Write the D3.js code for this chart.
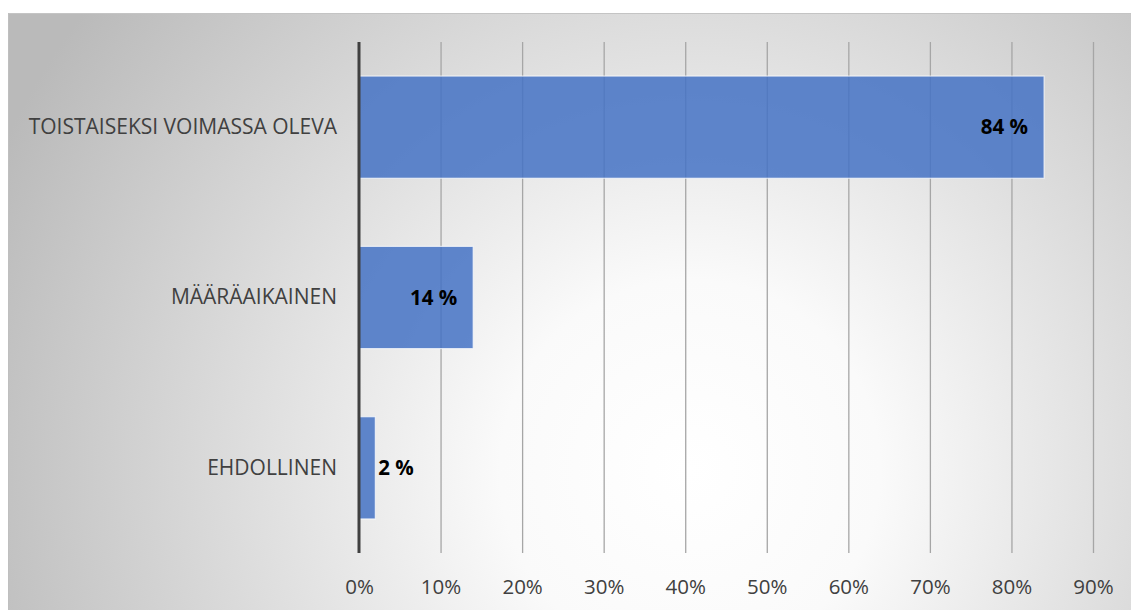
<!DOCTYPE html>
<html><head><meta charset="utf-8">
<script src="https://cdn.jsdelivr.net/npm/d3@7"></script>
<style>html,body{margin:0;padding:0;background:#fff;overflow:hidden}</style>
</head><body><div id="chart"></div>
<script>
const categories = ["TOISTAISEKSI VOIMASSA OLEVA", "MÄÄRÄAIKAINEN", "EHDOLLINEN"];
const values = [84, 14, 2];
const valueLabels = ["84 %", "14 %", "2 %"];
const tickValues = [0, 10, 20, 30, 40, 50, 60, 70, 80, 90];

const W = 1131, H = 610;
const svg = d3.select("#chart").append("svg").attr("width", W).attr("height", H);
const defs = svg.append("defs");
const rg = defs.append("radialGradient").attr("id", "bg")
  .attr("gradientUnits", "userSpaceOnUse")
  .attr("cx", 690).attr("cy", 470).attr("r", 760);
rg.append("stop").attr("offset", "0%").attr("stop-color", "#ffffff");
rg.append("stop").attr("offset", "25%").attr("stop-color", "#fafafa");
rg.append("stop").attr("offset", "100%").attr("stop-color", "#bababa");

svg.append("rect").attr("x", 8).attr("y", 13).attr("width", W - 8).attr("height", H - 13)
  .attr("fill", "url(#bg)");
svg.append("line").attr("x1", 8).attr("x2", W).attr("y1", 13.5).attr("y2", 13.5)
  .attr("stroke", "#c4c4c4").attr("stroke-width", 1);
svg.append("line").attr("x1", 8.5).attr("x2", 8.5).attr("y1", 13).attr("y2", H)
  .attr("stroke", "#bfbfbf").attr("stroke-width", 1);

const x = d3.scaleLinear().domain([0, 90]).range([359, 1093]);
const y = d3.scaleBand().domain(categories).range([42, 553]).paddingInner(0.4).paddingOuter(0.2);

// gridlines
const grid = svg.append("g").attr("transform", "translate(0,553)")
  .call(d3.axisBottom(x).tickValues(tickValues.slice(1)).tickSize(-(553 - 42)).tickFormat(""));
grid.select(".domain").remove();
grid.selectAll("line").attr("stroke", "#a6a6a6").attr("stroke-width", 1.3);

// bars
svg.append("g").selectAll("rect").data(values).join("rect")
  .attr("x", x(0))
  .attr("y", (d, i) => y(categories[i]))
  .attr("width", d => x(d) - x(0))
  .attr("height", y.bandwidth())
  .attr("fill", "#4472c4").attr("fill-opacity", 0.85)
  .attr("stroke", "#ffffff").attr("stroke-opacity", 0.7).attr("stroke-width", 1.2);

// x tick labels
const xa = svg.append("g").attr("transform", "translate(0,553)")
  .call(d3.axisBottom(x).tickValues(tickValues).tickSize(0).tickPadding(26).tickFormat(d => d + "%"));
xa.select(".domain").remove();
xa.selectAll("text").attr("font-family", "'Open Sans', sans-serif").attr("font-size", 20.5)
  .attr("fill", "#404040");

// y axis
const ya = svg.append("g").attr("transform", "translate(359,0)")
  .call(d3.axisLeft(y).tickSize(0).tickPadding(22));
ya.select(".domain").remove();
ya.selectAll("text").attr("font-family", "'Open Sans', sans-serif").attr("font-size", 21)
  .attr("fill", "#404040");
svg.append("line").attr("x1", 359).attr("x2", 359).attr("y1", 42).attr("y2", 553)
  .attr("stroke", "#404040").attr("stroke-width", 3);

// data labels
svg.append("g").selectAll("text").data(values).join("text")
  .attr("x", d => d >= 10 ? x(d) - 16 : x(d) + 3)
  .attr("y", (d, i) => y(categories[i]) + y.bandwidth() / 2)
  .attr("dy", "0.35em")
  .attr("text-anchor", d => d >= 10 ? "end" : "start")
  .attr("font-family", "'Open Sans', sans-serif").attr("font-weight", "bold").attr("font-size", 20.5)
  .attr("fill", "#000")
  .text((d, i) => valueLabels[i]);
</script></body></html>
